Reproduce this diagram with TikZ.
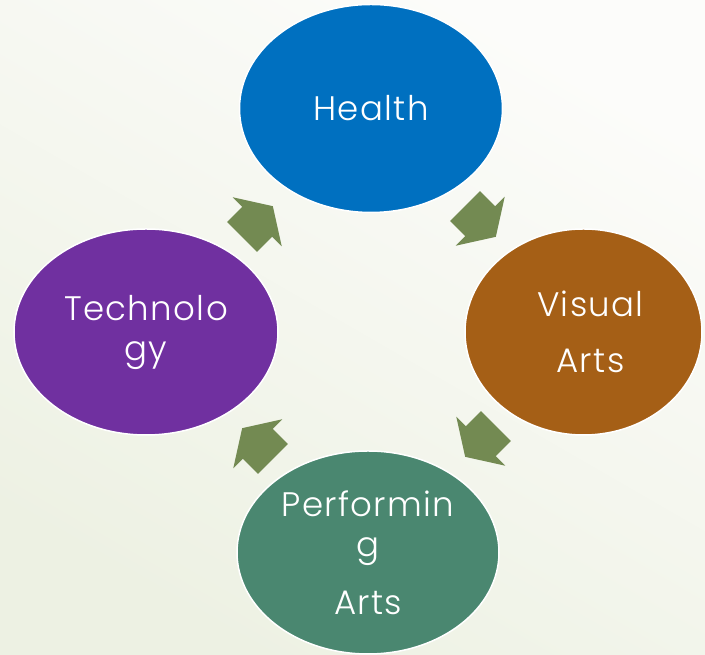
\documentclass[tikz,border=0pt]{standalone}
\usepackage{fontspec}
\setmainfont{Poppins}[UprightFont={* Light}, LetterSpace=4]
\usetikzlibrary{shapes.geometric,shapes.arrows}
\definecolor{healthc}{HTML}{0070C0}
\definecolor{visualc}{HTML}{A55F16}
\definecolor{perfc}{HTML}{4A8770}
\definecolor{techc}{HTML}{7030A0}
\definecolor{arrowc}{HTML}{738A52}
\definecolor{bgtop}{HTML}{FCFCFA}
\definecolor{bgbot}{HTML}{EDF1E3}
\begin{document}
\begin{tikzpicture}[x=1pt,y=1pt,
  bubble/.style={ellipse, draw=white, line width=1.5pt, text=white, inner sep=0pt,
    align=center, font=\fontsize{34}{40}\selectfont},
  cyc/.style={single arrow, fill=arrowc, draw=none, minimum height=43.5pt,
    single arrow head extend=13.5pt, single arrow tip angle=115,
    inner sep=0pt, anchor=tip}]
\useasboundingbox (0,0) rectangle (705,655);
\shade[top color=bgtop, bottom color=bgbot, shading angle=-30] (0,0) rectangle (705,655);
\node[bubble, fill=healthc, minimum width=263pt, minimum height=208pt] (health) at (371,546.5) {Health};
\node[bubble, fill=techc, minimum width=264pt, minimum height=206pt] (tech) at (146,323) {Technolo\\gy};
\node[bubble, fill=visualc, minimum width=237pt, minimum height=206pt] (visual) at (583.5,323)
  {\hspace*{14pt}Visual\\[16pt]\hspace*{14pt}Arts};
\node[bubble, fill=perfc, minimum width=262pt, minimum height=203pt] (perf) at (368,102.5) {Performin\\g\\[18pt]Arts};
\node[cyc, rotate=45] (a1) at (273,449) {\rule{0pt}{42pt}};
\node[cyc, rotate=-45] (a2) at (496,418) {\rule{0pt}{42pt}};
\node[cyc, rotate=-135] (a3) at (465,198) {\rule{0pt}{42pt}};
\node[cyc, rotate=135] (a4) at (242,227) {\rule{0pt}{42pt}};
\end{tikzpicture}
\end{document}
